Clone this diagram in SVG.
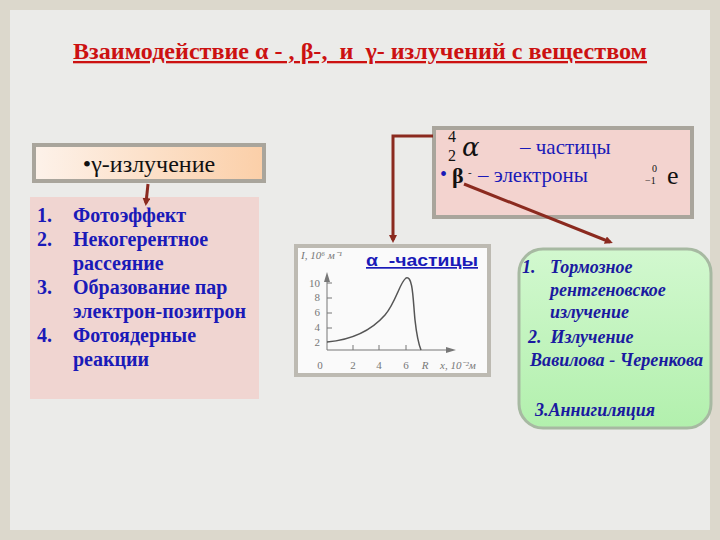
<svg xmlns="http://www.w3.org/2000/svg" width="720" height="540" viewBox="0 0 720 540">
<defs>
<style>
text{white-space:pre}
.t{font-family:"Liberation Serif","Times New Roman",serif}
.blue{fill:#1a1ab8;font-weight:bold;font-size:20px}
.gi{fill:#1a1aa0;font-weight:bold;font-style:italic;font-size:18px}
.ax{fill:#777;font-size:11px}
.conn{stroke:#8b2a1f;stroke-width:3;fill:none}
</style>
<linearGradient id="peach" x1="0" y1="0" x2="1" y2="0">
<stop offset="0" stop-color="#fdf2ea"/>
<stop offset="1" stop-color="#fbcfa8"/>
</linearGradient>
<linearGradient id="green" x1="0" y1="0" x2="0" y2="1">
<stop offset="0" stop-color="#d2f8cf"/>
<stop offset="1" stop-color="#b2f0ad"/>
</linearGradient>
<marker id="arr" markerWidth="8" markerHeight="8" refX="5" refY="4" orient="auto" markerUnits="userSpaceOnUse">
<path d="M0,0 L8,4 L0,8 Z" fill="#8b2a1f"/>
</marker>
</defs>
<rect x="0" y="0" width="720" height="540" fill="#dcd8cc"/>
<rect x="10" y="10" width="700" height="520" fill="#ebebe9"/>
<g id="title">
<text class="t" x="73" y="59" font-size="23" font-weight="bold" fill="#cc1111" text-decoration="underline" textLength="574" lengthAdjust="spacingAndGlyphs">Взаимодействие α - , β-,  и  γ- излучений с веществом</text>
</g>
<g id="gamma">
<rect x="34" y="145" width="230" height="36" fill="url(#peach)" stroke="#a9a59c" stroke-width="4"/>
<text class="t" x="149" y="172" text-anchor="middle" font-size="24" fill="#111">•γ-излучение</text>
</g>
<g id="gammaList">
<rect x="30" y="197" width="229" height="202" fill="#f0d5d1"/>
<text class="t blue" x="37" y="222">1.</text><text class="t blue" x="73" y="222">Фотоэффект</text>
<text class="t blue" x="37" y="246">2.</text><text class="t blue" x="73" y="246">Некогерентное</text>
<text class="t blue" x="73" y="270">рассеяние</text>
<text class="t blue" x="37" y="294">3.</text><text class="t blue" x="73" y="294">Образование пар</text>
<text class="t blue" x="73" y="318">электрон-позитрон</text>
<text class="t blue" x="37" y="342">4.</text><text class="t blue" x="73" y="342">Фотоядерные</text>
<text class="t blue" x="73" y="366">реакции</text>
</g>
<g id="alphabeta">
<rect x="434" y="128" width="258" height="89" fill="#f3d3cf" stroke="#a9a59c" stroke-width="4"/>
<text class="t" x="448" y="142" font-size="16" fill="#111">4</text>
<text class="t" x="448" y="161" font-size="16" fill="#111">2</text>
<text x="462" y="156" font-family="'DejaVu Serif',serif" font-style="italic" font-size="26" fill="#111">α</text>
<text class="t" x="520" y="154" font-size="21" fill="#1a1ab8">– частицы</text>
<text class="t" x="440" y="181" font-size="20" fill="#1a1ab8">•</text>
<text class="t" x="452" y="183" font-size="22" font-weight="bold" fill="#111">β</text>
<text class="t" x="468" y="176" font-size="11" fill="#111">-</text>
<text class="t" x="478" y="182" font-size="21" fill="#1a1ab8">– электроны</text>
<text class="t" x="652" y="172" font-size="10" fill="#111">0</text>
<text class="t" x="645" y="184" font-size="10" fill="#111">−1</text>
<text class="t" x="667" y="184" font-size="26" fill="#111">e</text>
</g>
<g id="graph">
<rect x="296" y="246" width="193" height="129" fill="#fafafa" stroke="#bdbab2" stroke-width="4"/>
<text class="t ax" x="301" y="259" font-style="italic">I, 10⁶ м⁻¹</text>
<text x="366" y="266" font-family="'Liberation Sans',Arial,sans-serif" font-weight="bold" font-size="17" fill="#1a1ab8" text-decoration="underline" textLength="112" lengthAdjust="spacingAndGlyphs">α  -частицы</text>
<g stroke="#777" stroke-width="1" fill="none">
<line x1="327" y1="350" x2="327" y2="275"/>
<line x1="327" y1="350" x2="452" y2="350"/>
<line x1="327" y1="283" x2="332" y2="283"/>
<line x1="327" y1="298" x2="332" y2="298"/>
<line x1="327" y1="313" x2="332" y2="313"/>
<line x1="327" y1="328" x2="332" y2="328"/>
<line x1="353" y1="350" x2="353" y2="345"/>
<line x1="379" y1="350" x2="379" y2="345"/>
<line x1="406" y1="350" x2="406" y2="345"/>
</g>
<path d="M324,282 L327,272 L330,282 Z" fill="#777"/>
<path d="M446,347 L456,350 L446,353 Z" fill="#777"/>
<text class="t ax" x="320" y="287" text-anchor="end">10</text>
<text class="t ax" x="320" y="301" text-anchor="end">8</text>
<text class="t ax" x="320" y="316" text-anchor="end">6</text>
<text class="t ax" x="320" y="331" text-anchor="end">4</text>
<text class="t ax" x="320" y="346" text-anchor="end">2</text>
<text class="t ax" x="320" y="369" text-anchor="middle">0</text>
<text class="t ax" x="353" y="369" text-anchor="middle">2</text>
<text class="t ax" x="379" y="369" text-anchor="middle">4</text>
<text class="t ax" x="406" y="369" text-anchor="middle">6</text>
<text class="t ax" x="425" y="369" text-anchor="middle" font-style="italic">R</text>
<text class="t ax" x="440" y="369" font-style="italic">x, 10⁻²м</text>
<path d="M327,342 C350,340 370,332 385,315 C396,302 400,282 406,278 C413,275 413,300 415,320 C417,338 419,345 421,350" fill="none" stroke="#555" stroke-width="1.5"/>
</g>
<g id="betaList">
<rect x="519" y="249" width="192" height="179" rx="24" ry="24" fill="url(#green)" stroke="#a7b9a2" stroke-width="3"/>
<text class="t gi" x="522" y="273">1.</text><text class="t gi" x="550" y="273">Тормозное</text>
<text class="t gi" x="550" y="296">рентгеновское</text>
<text class="t gi" x="550" y="318">излучение</text>
<text class="t gi" x="528" y="343">2.  Излучение</text>
<text class="t gi" x="530" y="366" textLength="173" lengthAdjust="spacingAndGlyphs">Вавилова - Черенкова</text>
<text class="t gi" x="535" y="416">3.Аннигиляция</text>
</g>
<g id="connectors">
<path class="conn" d="M148,184 L146,203" stroke-width="2" marker-end="url(#arr)"/>
<path class="conn" d="M433,136 L393,136 L393,240" marker-end="url(#arr)"/>
<path class="conn" d="M464,184 L610,242" marker-end="url(#arr)"/>
</g>
</svg>
